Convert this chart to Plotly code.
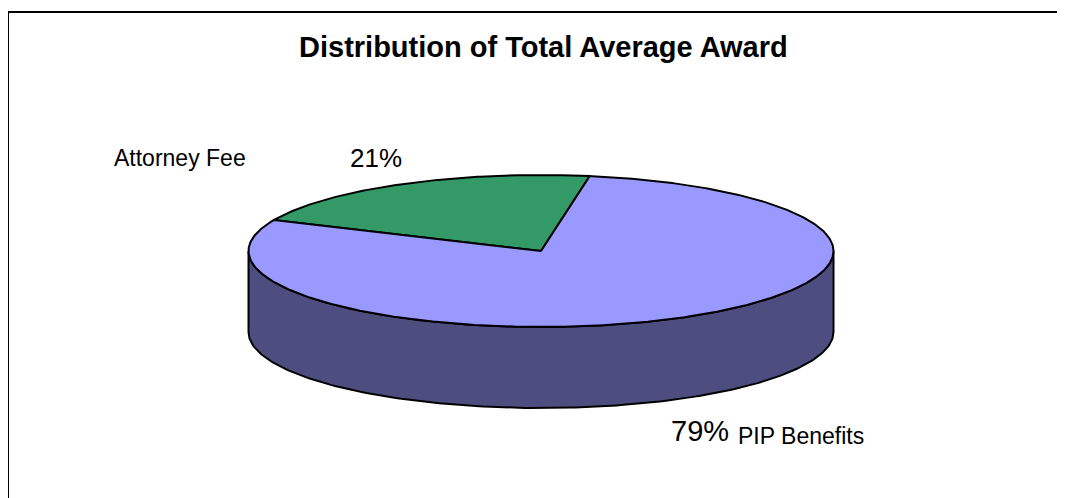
import numpy as np
import plotly.graph_objects as go

# ---- data ----
labels = ["Attorney Fee", "PIP Benefits"]
values = [21, 79]
colors = ["#339966", "#9999FF"]
side_color = "#4D4D80"
title = "Distribution of Total Average Award"

# ---- geometry (screen-pixel space; page body has an 8px margin) ----
W, H = 1065, 498
OFF = 8
cx, cy = 541, 251
rx, ry = 292.5, 76
depth = 81
start_deg = 156  # slices run clockwise from here

def pt(t_deg, dy=0.0):
    t = np.radians(t_deg)
    return cx + rx * np.cos(t), cy - ry * np.sin(t) + dy

fig = go.Figure()

# side wall (front half, t in [180, 360])
ts = np.linspace(180, 360, 200)
xs_top, ys_top = pt(ts)
xs_bot, ys_bot = pt(ts[::-1], depth)
fig.add_trace(go.Scatter(
    x=np.concatenate([xs_top, xs_bot, xs_top[:1]]),
    y=np.concatenate([ys_top, ys_bot, ys_top[:1]]),
    fill="toself", fillcolor=side_color, mode="lines",
    line=dict(color="black", width=2), hoverinfo="skip", showlegend=False))

# top slices
total = sum(values)
a = start_deg
for lab, v, c in zip(labels, values, colors):
    span = 360.0 * v / total
    t = np.linspace(a, a - span, max(int(span * 2), 10))
    x, y = pt(t)
    fig.add_trace(go.Scatter(
        x=np.concatenate([[cx], x, [cx]]),
        y=np.concatenate([[cy], y, [cy]]),
        fill="toself", fillcolor=c, mode="lines",
        line=dict(color="black", width=2), name=lab,
        hoverinfo="name", showlegend=False))
    a -= span

font = "Liberation Sans, Arial, sans-serif"
fig.add_annotation(x=180, y=158, text=labels[0], showarrow=False,
                   font=dict(family=font, size=23, color="black"))
fig.add_annotation(x=376, y=158, text=f"{values[0]}%", showarrow=False,
                   font=dict(family=font, size=26, color="black"))
fig.add_annotation(x=700, y=431, text=f"{values[1]}%", showarrow=False,
                   font=dict(family=font, size=29, color="black"))
fig.add_annotation(x=800.5, y=436, text=labels[1], showarrow=False,
                   font=dict(family=font, size=23, color="black"))
fig.add_annotation(x=543, y=47, text=f"<b>{title}</b>", showarrow=False,
                   font=dict(family=font, size=29, color="black"))

# chart border (top and left visible)
fig.add_shape(type="line", xref="x", yref="y", x0=8, x1=W + 20, y0=12, y1=12,
              line=dict(color="black", width=2))
fig.add_shape(type="line", xref="x", yref="y", x0=8, x1=8, y0=12, y1=H + 20,
              line=dict(color="black", width=2))

fig.update_layout(
    width=W, height=H, margin=dict(l=0, r=0, t=0, b=0),
    paper_bgcolor="white", plot_bgcolor="white",
    xaxis=dict(range=[OFF, W + OFF], visible=False, fixedrange=True),
    yaxis=dict(range=[H + OFF, OFF], visible=False, fixedrange=True),
)
fig.write_html("out.html")
